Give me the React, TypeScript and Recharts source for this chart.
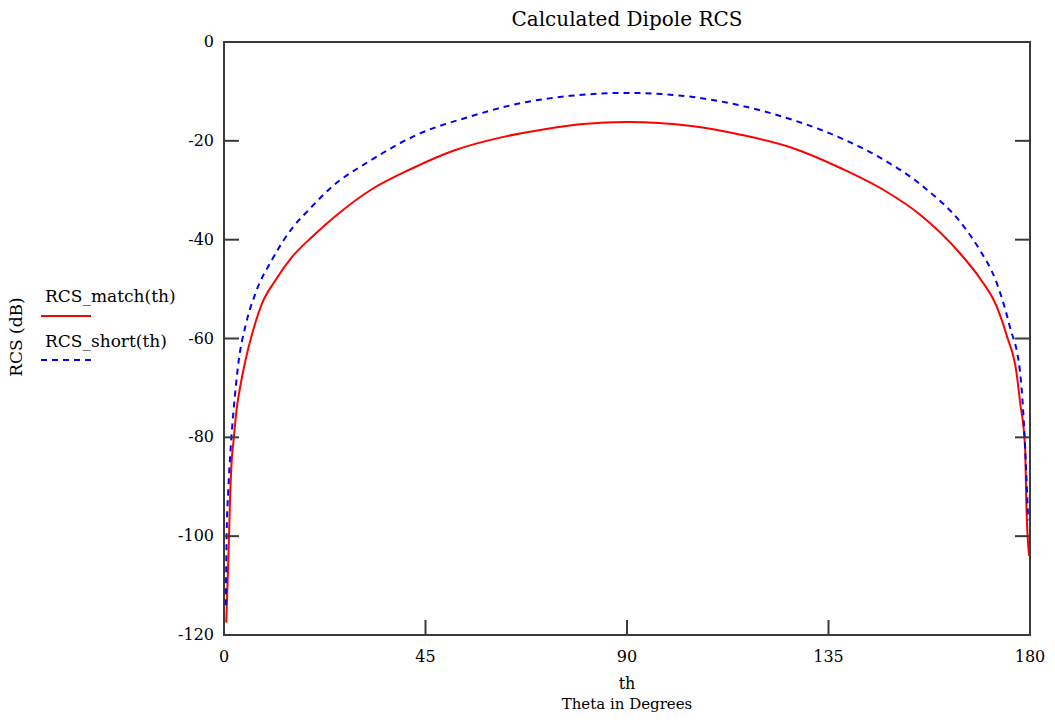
import React from 'react'
import { Line, LineChart, ReferenceArea, XAxis, YAxis } from 'recharts'

// RCS of the dipole (dB vs theta in degrees)
const matchTheta = [
  0.5, 1.0, 1.3, 1.7, 2.1, 2.8, 3.9, 4.8, 6.3, 8.5, 11.5, 15.2, 19.7, 25.6, 33,
  41.5, 51.2, 62.4, 71.3, 80.2, 90, 104.4, 115.6, 126.8, 137.9, 147.6, 155.4,
  164.4, 168.8, 172.5, 174.8, 177, 177.8, 178.9, 179.2, 179.8,
]
const matchRcs = [
  -117.5, -104, -94, -85, -81, -74.5, -68.4, -64.4, -59, -52.9, -48.2, -43.5,
  -39.4, -34.7, -29.8, -25.8, -22, -19.2, -17.7, -16.6, -16.2, -17, -18.8,
  -21.4, -25.6, -30.1, -34.9, -42.8, -47.8, -53.4, -59.4, -67, -73, -82, -94,
  -104,
]
const shortTheta = [
  0.4, 0.6, 0.96, 1.5, 2.1, 3.3, 4.76, 7.0, 10.7, 15.2, 18.9, 24.1, 32.3, 43.8,
  54.9, 66.1, 77.3, 90, 104.4, 115.6, 126.8, 137.9, 146.5, 156.2, 165.1, 168.8,
  172.5, 175.5, 177.8, 178.5, 179.6,
]
const shortRcs = [
  -114, -99.4, -90.7, -82, -75, -64.4, -57.6, -50.9, -44.1, -37.7, -34, -29.3,
  -24.2, -18.5, -15.1, -12.4, -10.9, -10.3, -11.1, -12.9, -15.7, -19.5, -23.4,
  -29.3, -37.2, -42.1, -48.6, -57.6, -67, -75, -96.8,
]
const xTicks = [0, 45, 90, 135, 180]
const yTicks = [-120, -100, -80, -60, -40, -20, 0]
const seriesNames = ['RCS_match(th)', 'RCS_short(th)']

const W = 1055
const H = 722
const PLOT_RIGHT = 1030
const AXIS = '#3a3a3a'
const FONT = '"DejaVu Serif", "Liberation Serif", serif'

const matchData = matchTheta.map((th, i) => ({ th, rcs: matchRcs[i] }))
const shortData = shortTheta.map((th, i) => ({ th, rcs: shortRcs[i] }))

function YTick(props: any) {
  const { x, y, payload } = props
  return (
    <g>
      <line x1={x + 10} x2={x + 25} y1={y} y2={y} stroke={AXIS} strokeWidth={2} />
      <line x1={PLOT_RIGHT - 15} x2={PLOT_RIGHT} y1={y} y2={y} stroke={AXIS} strokeWidth={2} />
      <text x={x} y={y} dy={5} textAnchor="end" fontSize={16} fontFamily={FONT} fill="#000">
        {payload.value}
      </text>
    </g>
  )
}

function XTick(props: any) {
  const { x, y, payload } = props
  return (
    <g>
      <line x1={x} x2={x} y1={y - 12} y2={y - 27} stroke={AXIS} strokeWidth={2} />
      <text x={x} y={y} dy={15} textAnchor="middle" fontSize={16} fontFamily={FONT} fill="#000">
        {payload.value}
      </text>
    </g>
  )
}

export default function App() {
  return (
    <div style={{ position: 'absolute', left: 0, top: 0, width: W, height: H, background: '#fff' }}>
      <LineChart width={W} height={H} margin={{ top: 42, right: W - PLOT_RIGHT, bottom: 0, left: 0 }}>
        <XAxis
          dataKey="th"
          type="number"
          domain={[0, 180]}
          ticks={xTicks}
          allowDataOverflow
          height={87}
          tickSize={0}
          tickMargin={12}
          tickLine={false}
          axisLine={{ stroke: AXIS, strokeWidth: 2 }}
          tick={<XTick />}
        />
        <YAxis
          type="number"
          domain={[-120, 0]}
          ticks={yTicks}
          allowDataOverflow
          width={224}
          tickSize={0}
          tickMargin={10}
          tickLine={false}
          axisLine={{ stroke: AXIS, strokeWidth: 2 }}
          tick={<YTick />}
        />
        <ReferenceArea x1={0} x2={180} y1={-120} y2={0} fill="none" stroke={AXIS} strokeWidth={2} />
        <Line
          data={matchData}
          dataKey="rcs"
          name={seriesNames[0]}
          type="monotone"
          stroke="#ff0000"
          strokeWidth={2}
          dot={false}
          isAnimationActive={false}
        />
        <Line
          data={shortData}
          dataKey="rcs"
          name={seriesNames[1]}
          type="monotone"
          stroke="#0000ff"
          strokeWidth={2}
          strokeDasharray="6 5"
          dot={false}
          isAnimationActive={false}
        />
      </LineChart>
      <svg
        width={W}
        height={H}
        style={{ position: 'absolute', left: 0, top: 0, pointerEvents: 'none' }}
        fontFamily={FONT}
      >
        <text x={627} y={26} textAnchor="middle" fontSize={20}>
          Calculated Dipole RCS
        </text>
        <text x={627} y={689} textAnchor="middle" fontSize={16}>
          th
        </text>
        <text x={627} y={709} textAnchor="middle" fontSize={15}>
          Theta in Degrees
        </text>
        <text x={22} y={337} textAnchor="middle" fontSize={17} transform="rotate(-90 22 337)">
          RCS (dB)
        </text>
        <text x={45} y={302} fontSize={17}>
          {seriesNames[0]}
        </text>
        <line x1={41} x2={91} y1={316} y2={316} stroke="#ff0000" strokeWidth={2} />
        <text x={45} y={347} fontSize={17}>
          {seriesNames[1]}
        </text>
        <line x1={41} x2={92} y1={360} y2={360} stroke="#0000ff" strokeWidth={2} strokeDasharray="6 5" />
      </svg>
    </div>
  )
}
